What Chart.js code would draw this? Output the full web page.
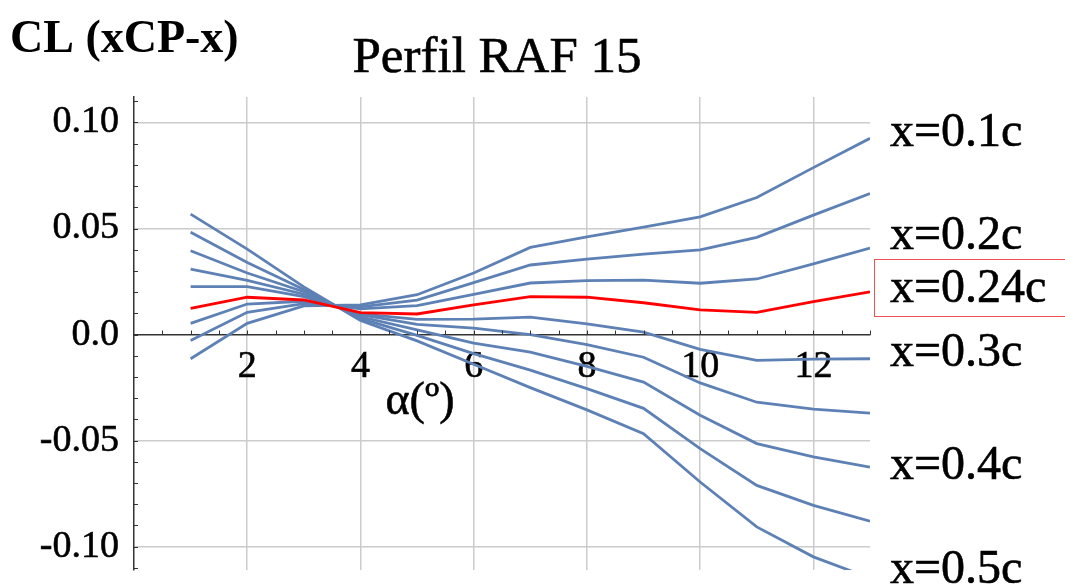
<!DOCTYPE html>
<html>
<head>
<meta charset="utf-8">
<script src="https://cdn.jsdelivr.net/npm/chart.js@4"></script>
<style>
  html, body { margin: 0; padding: 0; background: #fff; }
  #wrap { width: 1065px; height: 584px; position: relative; }
</style>
</head>
<body>
<div id="wrap"><canvas id="plot"></canvas></div>
<script>
// angle of attack (deg)
const alphas = [1, 2, 3, 4, 5, 6, 7, 8, 9, 10, 11, 12, 13];

// CL*(xCP - x) for each reference point x
const x010 = [-0.0114, 0.0053, 0.0135, 0.0140, 0.0188, 0.0290, 0.0411, 0.0461, 0.0507, 0.0555, 0.0646, 0.0787, 0.0925];
const x015 = [-0.0028, 0.0105, 0.0146, 0.0131, 0.0162, 0.0245, 0.0328, 0.0356, 0.0379, 0.0399, 0.0458, 0.0563, 0.0665];
const x020 = [0.0053, 0.0144, 0.0157, 0.0121, 0.0136, 0.0190, 0.0243, 0.0254, 0.0257, 0.0242, 0.0262, 0.0333, 0.0408];
const x024 = [0.0124, 0.0176, 0.0163, 0.0103, 0.0097, 0.0140, 0.0179, 0.0176, 0.0150, 0.0116, 0.0105, 0.0155, 0.0201];
const x030 = [0.0226, 0.0226, 0.0179, 0.0098, 0.0072, 0.0073, 0.0082, 0.0050, 0.0011, -0.0070, -0.0122, -0.0116, -0.0114];
const x035 = [0.0309, 0.0255, 0.0190, 0.0094, 0.0048, 0.0030, 0.0000, -0.0048, -0.0107, -0.0228, -0.0319, -0.0352, -0.0370];
const x040 = [0.0395, 0.0290, 0.0202, 0.0084, 0.0022, -0.0040, -0.0083, -0.0150, -0.0224, -0.0380, -0.0514, -0.0577, -0.0625];
const x045 = [0.0482, 0.0340, 0.0213, 0.0075, -0.0004, -0.0090, -0.0168, -0.0255, -0.0348, -0.0538, -0.0711, -0.0805, -0.0880];
const x050 = [0.0568, 0.0403, 0.0225, 0.0066, -0.0030, -0.0140, -0.0250, -0.0355, -0.0467, -0.0695, -0.0907, -0.1048, -0.1148];

// tick labels
const xTickValues = [2, 4, 6, 8, 10, 12];
const xTickLabels = ['2', '4', '6', '8', '10', '12'];
const yTickValues = [-0.10, -0.05, 0, 0.05, 0.10];
const yTickLabels = ['-0.10', '-0.05', '0.0', '0.05', '0.10'];

// line labels on the right
const lineLabels = ['x=0.1c', 'x=0.2c', 'x=0.24c', 'x=0.3c', 'x=0.4c', 'x=0.5c'];

const SERIF = '"Liberation Serif", "DejaVu Serif", serif';
const BLUE = '#5e81b5';
const RED = '#ff0000';

function toPoints(vals) {
  return alphas.map((a, i) => ({ x: a, y: vals[i] }));
}

function lineSet(label, vals, color) {
  return {
    label: label,
    data: toPoints(vals),
    borderColor: color,
    borderWidth: 2.8,
    pointRadius: 0,
    tension: 0,
    fill: false
  };
}

// red one first so it is drawn on top
const datasets = [
  lineSet('x=0.24c', x024, RED),
  lineSet('x=0.1c', x010, BLUE),
  lineSet('x=0.15c', x015, BLUE),
  lineSet('x=0.2c', x020, BLUE),
  lineSet('x=0.3c', x030, BLUE),
  lineSet('x=0.35c', x035, BLUE),
  lineSet('x=0.4c', x040, BLUE),
  lineSet('x=0.45c', x045, BLUE),
  lineSet('x=0.5c', x050, BLUE)
];

// draw a text slightly heavier, like the original rendering
function heavyText(ctx, t, x, y) {
  ctx.fillText(t, x, y);
  ctx.strokeText(t, x, y);
}

// texts, frame around the highlighted label and the small axis ticks
const annotations = {
  id: 'annotations',
  afterDraw(chart) {
    const ctx = chart.ctx;
    const xs = chart.scales.x;
    const ys = chart.scales.y;
    const y0 = ys.getPixelForValue(0);
    const x0 = xs.getPixelForValue(0);

    ctx.save();
    // minor ticks on the axes
    ctx.strokeStyle = '#333';
    ctx.lineWidth = 1;
    ctx.beginPath();
    for (let v = 0.5; v <= 13; v += 0.5) {
      const px = Math.round(xs.getPixelForValue(v)) + 0.5;
      ctx.moveTo(px, y0);
      ctx.lineTo(px, y0 - 4);
    }
    for (let k = -11; k <= 11; k++) {
      const py = Math.round(ys.getPixelForValue(k / 100)) + 0.5;
      ctx.moveTo(x0, py);
      ctx.lineTo(x0 + 4, py);
    }
    ctx.stroke();

    ctx.fillStyle = '#000';
    ctx.strokeStyle = '#000';
    ctx.lineWidth = 0.6;
    ctx.textBaseline = 'alphabetic';

    ctx.font = 'bold 46px ' + SERIF;
    ctx.textAlign = 'left';
    ctx.fillText('CL (xCP-x)', 10, 52);

    ctx.font = '51px ' + SERIF;
    ctx.textAlign = 'center';
    heavyText(ctx, 'Perfil RAF 15', 497, 72);

    ctx.font = '46px ' + SERIF;
    heavyText(ctx, '\u03b1(\u00ba)', 420, 414);

    ctx.font = '48px ' + SERIF;
    ctx.textAlign = 'left';
    const baselines = [146, 249, 302, 366, 479, 583];
    lineLabels.forEach((t, i) => heavyText(ctx, t, 890, baselines[i]));

    ctx.strokeStyle = '#f05050';
    ctx.lineWidth = 1;
    ctx.strokeRect(874.5, 259.5, 195, 57);
    ctx.restore();
  }
};

const tickFont = { family: SERIF, size: 38 };

new Chart(document.getElementById('plot'), {
  type: 'line',
  data: { datasets: datasets },
  options: {
    responsive: true,
    maintainAspectRatio: false,
    animation: false,
    layout: { padding: { top: 97, right: 195, bottom: 14, left: 0 } },
    plugins: {
      legend: { display: false },
      tooltip: { enabled: false }
    },
    scales: {
      x: {
        type: 'linear',
        min: 0,
        max: 13,
        position: { y: 0 },
        afterBuildTicks: s => { s.ticks = xTickValues.map(v => ({ value: v })); },
        afterFit: s => { s.paddingLeft = 0; s.paddingRight = 0; },
        ticks: {
          callback: v => xTickLabels[xTickValues.indexOf(v)],
          font: tickFont,
          color: '#000',
          textStrokeColor: '#000',
          textStrokeWidth: 0.6,
          padding: 10,
          maxRotation: 0,
          autoSkip: false
        },
        grid: { color: '#cccccc', lineWidth: 1.5, drawTicks: false },
        border: { display: true, color: '#333', width: 1.5 }
      },
      y: {
        type: 'linear',
        min: -0.111,
        max: 0.112,
        position: 'left',
        afterBuildTicks: s => { s.ticks = yTickValues.map(v => ({ value: v })); },
        afterFit: s => { s.width = 134; s.paddingTop = 0; s.paddingBottom = 0; },
        ticks: {
          callback: v => yTickLabels[yTickValues.indexOf(v)],
          font: tickFont,
          color: '#000',
          textStrokeColor: '#000',
          textStrokeWidth: 0.6,
          padding: 15
        },
        grid: {
          color: c => (c.tick && c.tick.value === 0 ? 'rgba(0,0,0,0)' : '#cccccc'),
          lineWidth: 1.5,
          drawTicks: false
        },
        border: { display: true, color: '#333', width: 1.5 }
      }
    }
  },
  plugins: [annotations]
});
</script>
</body>
</html>
